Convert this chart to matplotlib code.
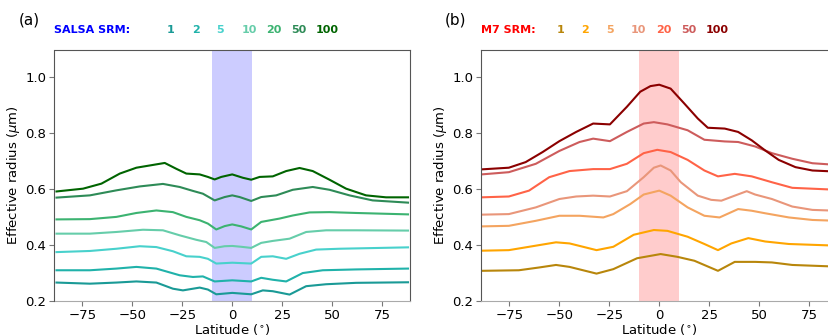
import numpy as np
import matplotlib
matplotlib.use("Agg")
import matplotlib.pyplot as plt

srm_labels = ["1", "2", "5", "10", "20", "50", "100"]

# SALSA panel (a)
salsa_colors = ["#1a9a96", "#20b2aa", "#48d1cc", "#66cdaa", "#3cb371", "#2e8b57", "#006400"]
salsa_lat = [
    [-88, -71.3, -58, -48, -38, -29.7, -24.7, -16.3, -12.2, -8, 0, 9.5, 15.3, 20.3, 28.7, 37, 47, 62, 88],
    [-88, -71.3, -58, -48, -38, -26.3, -19.7, -14.7, -8.8, 0, 9.5, 14.5, 20.3, 27, 35.3, 45.3, 62, 88],
    [-88, -71.3, -58, -46.3, -38, -29.7, -23, -16.3, -12.2, -8, 0, 9.5, 14.5, 20.3, 27, 33.7, 42, 53.7, 88],
    [-88, -71.3, -58, -44.7, -34.7, -26.3, -18, -13, -8.8, -3.8, 0, 4.5, 9.5, 14.5, 20.3, 28.7, 37, 47, 62, 88],
    [-88, -71.3, -58, -48, -38, -29.7, -23, -16.3, -12.2, -8, -3.8, 0, 4.5, 9.5, 14.5, 23.7, 30.3, 38.7, 48.7, 62, 88],
    [-88, -71.3, -58, -46.3, -34.7, -26.3, -19.7, -14.7, -8.8, -3.8, 0, 3.7, 9.5, 14.5, 22, 30.3, 40.3, 48.7, 58.7, 70.3, 88],
    [-88, -74.7, -65.5, -56.3, -48, -41.3, -33.8, -28, -23, -16.3, -12.2, -8.8, -5.5, 0, 5.3, 9.5, 13.7, 20.3, 27, 33.7, 40.3, 48.7, 57, 67, 77, 88],
]
salsa_reff = [
    [0.266, 0.262, 0.266, 0.270, 0.266, 0.244, 0.238, 0.248, 0.241, 0.224, 0.229, 0.224, 0.238, 0.235, 0.223, 0.253, 0.260, 0.265, 0.267],
    [0.310, 0.310, 0.316, 0.322, 0.316, 0.292, 0.286, 0.288, 0.270, 0.274, 0.270, 0.283, 0.276, 0.270, 0.300, 0.310, 0.313, 0.316],
    [0.375, 0.379, 0.387, 0.396, 0.393, 0.378, 0.360, 0.358, 0.351, 0.334, 0.337, 0.334, 0.358, 0.360, 0.351, 0.369, 0.384, 0.387, 0.392],
    [0.441, 0.441, 0.447, 0.455, 0.453, 0.435, 0.419, 0.411, 0.390, 0.396, 0.397, 0.394, 0.390, 0.408, 0.415, 0.423, 0.447, 0.453, 0.453, 0.452],
    [0.492, 0.493, 0.501, 0.515, 0.524, 0.518, 0.501, 0.489, 0.477, 0.456, 0.468, 0.474, 0.467, 0.456, 0.483, 0.495, 0.506, 0.517, 0.518, 0.515, 0.510],
    [0.570, 0.578, 0.596, 0.610, 0.619, 0.608, 0.594, 0.584, 0.560, 0.572, 0.578, 0.572, 0.558, 0.572, 0.578, 0.598, 0.608, 0.598, 0.578, 0.560, 0.552],
    [0.592, 0.602, 0.620, 0.656, 0.677, 0.685, 0.694, 0.673, 0.656, 0.653, 0.644, 0.635, 0.644, 0.653, 0.641, 0.634, 0.644, 0.646, 0.665, 0.676, 0.665, 0.634, 0.602, 0.578, 0.571, 0.571],
]

# M7 panel (b)
m7_colors = ["#b8860b", "#ffa500", "#f4a460", "#e9967a", "#ff6347", "#cd5c5c", "#8b0000"]
m7_lat = [
    [-89, -70.3, -60.1, -51.7, -44.9, -31.4, -23, -11.1, 0.7, 9.1, 17.6, 29.4, 37.8, 48, 56.4, 66.6, 89],
    [-89, -75.3, -61.8, -51.7, -44.9, -31.4, -23, -12.8, -2.7, 4.1, 14.2, 22.6, 29.4, 36.1, 44.6, 53, 64.9, 89],
    [-89, -75.3, -61.8, -50, -39.9, -28, -23, -14.5, -7.8, 0, 5.7, 14.2, 22.6, 30.2, 39.5, 46.3, 53, 64.9, 76.7, 89],
    [-89, -75.3, -61.8, -50, -41.6, -33.1, -24.7, -16.2, -7.8, -2.7, 0.7, 5.7, 10.8, 19.3, 26, 31.1, 37.8, 43.8, 48, 56.4, 66.6, 76.7, 89],
    [-89, -75.3, -65.2, -55.1, -44.9, -33.1, -24.7, -16.2, -7.8, -1, 5.7, 14.2, 22.6, 29.4, 37.8, 46.3, 56.4, 66.6, 89],
    [-89, -75.3, -61.8, -50, -39.9, -33.1, -24.7, -16.2, -7.8, -2.7, 4.1, 14.2, 22.6, 32.8, 39.5, 48, 56.4, 66.6, 76.7, 89],
    [-89, -75.3, -66.9, -58.4, -50, -41.6, -33.1, -24.7, -16.2, -9.5, -4.4, 0, 5.7, 12.5, 19.3, 24.3, 32.8, 39.5, 46.3, 53, 59.8, 68.2, 76.7, 89],
]
m7_reff = [
    [0.308, 0.310, 0.320, 0.329, 0.322, 0.298, 0.314, 0.353, 0.368, 0.358, 0.344, 0.308, 0.340, 0.340, 0.338, 0.329, 0.323],
    [0.380, 0.382, 0.398, 0.410, 0.406, 0.382, 0.394, 0.437, 0.454, 0.451, 0.430, 0.404, 0.382, 0.406, 0.425, 0.413, 0.404, 0.398],
    [0.467, 0.469, 0.487, 0.505, 0.505, 0.499, 0.511, 0.547, 0.581, 0.595, 0.577, 0.535, 0.505, 0.499, 0.529, 0.523, 0.514, 0.499, 0.490, 0.487],
    [0.509, 0.511, 0.535, 0.565, 0.574, 0.577, 0.574, 0.593, 0.643, 0.677, 0.685, 0.667, 0.625, 0.577, 0.562, 0.559, 0.577, 0.593, 0.581, 0.565, 0.538, 0.526, 0.523],
    [0.571, 0.574, 0.595, 0.643, 0.665, 0.672, 0.672, 0.691, 0.729, 0.741, 0.733, 0.705, 0.667, 0.646, 0.655, 0.646, 0.625, 0.605, 0.598],
    [0.653, 0.661, 0.691, 0.737, 0.769, 0.781, 0.772, 0.805, 0.835, 0.840, 0.832, 0.811, 0.777, 0.771, 0.769, 0.753, 0.729, 0.709, 0.693, 0.687],
    [0.671, 0.677, 0.697, 0.733, 0.772, 0.805, 0.835, 0.832, 0.895, 0.949, 0.969, 0.974, 0.960, 0.907, 0.853, 0.820, 0.817, 0.805, 0.775, 0.739, 0.705, 0.679, 0.667, 0.663],
]

W, H = 829, 336
fig = plt.figure(figsize=(W / 100, H / 100), dpi=100)
ax1 = fig.add_axes([54.5 / W, 35 / H, 355.5 / W, 251.5 / H])
ax2 = fig.add_axes([481.5 / W, 35 / H, 355.5 / W, 251.5 / H])

panels = [
    (ax1, salsa_lat, salsa_reff, salsa_colors, "blue", "SALSA SRM:", 0.316, "(a)"),
    (ax2, m7_lat, m7_reff, m7_colors, "red", "M7 SRM:", 0.2115, "(b)"),
]

for ax, lats, reffs, cols, span_col, name, x0, tag in panels:
    ax.axvspan(-10, 10, color=span_col, alpha=0.2, lw=0)
    for la, re, c in zip(lats, reffs, cols):
        ax.plot(la, re, color=c, lw=1.5)
    ax.set_xlim(-89, 89)
    ax.set_ylim(0.2, 1.1)
    ax.set_xticks([-75, -50, -25, 0, 25, 50, 75])
    ax.set_yticks([0.2, 0.4, 0.6, 0.8, 1.0])
    ax.tick_params(labelsize=9.5, color="#777777", length=3.5, pad=2.5)
    for s in ["left", "top", "right"]:
        ax.spines[s].set_color("#555555")
    ax.spines["bottom"].set_color("#aaaaaa")
    ax.set_xlabel(r"Latitude ($^{\circ}$)", fontsize=9.5, labelpad=0)
    ax.set_ylabel(r"Effective radius ($\mu$m)", fontsize=9.5, labelpad=2)
    ax.text(0.0, 1.077, name, transform=ax.transAxes, color=span_col,
            fontsize=8, fontweight="bold", va="center", ha="left")
    for k, (lab, c) in enumerate(zip(srm_labels, cols)):
        ax.text(x0 + k * 0.0698, 1.077, lab, transform=ax.transAxes, color=c,
                fontsize=8, fontweight="bold", va="center", ha="left")
    ax.text(-0.072, 1.117, tag, transform=ax.transAxes, fontsize=11,
            va="center", ha="center")

fig.savefig("out.png", dpi=100)
